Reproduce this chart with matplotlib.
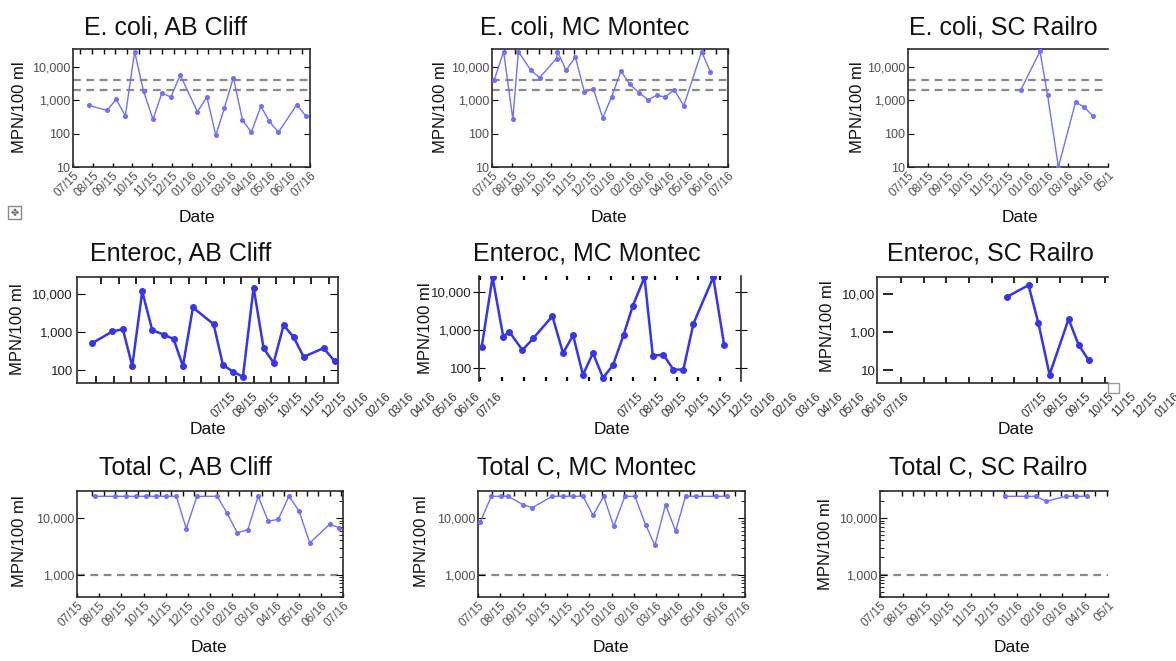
import matplotlib
matplotlib.use("Agg")
import matplotlib.pyplot as plt
import numpy as np
from matplotlib.patches import Rectangle
from matplotlib.ticker import NullLocator, NullFormatter, LogLocator

plt.rcParams['font.family'] = ['Liberation Sans', 'DejaVu Sans']

# ---- data: x = months since 07/15, y = MPN/100 ml ----
month_labels = ['07/15', '08/15', '09/15', '10/15', '11/15', '12/15', '01/16',
                '02/16', '03/16', '04/16', '05/16', '06/16', '07/16']
sc_labels = ['07/15', '08/15', '09/15', '10/15', '11/15', '12/15', '01/16',
             '02/16', '03/16', '04/16', '05/1']

ecoli_ab_x = [0.79, 1.72, 2.19, 2.65, 3.12, 3.57, 4.05, 4.50, 4.96, 5.43, 6.30,
              6.78, 7.23, 7.67, 8.12, 8.58, 9.03, 9.51, 9.94, 10.40, 11.33, 11.80]
ecoli_ab_y = [710, 500, 1070, 340, 29000, 1900, 270, 1650, 1260, 5750, 450,
              1260, 89, 600, 4800, 260, 110, 660, 235, 110, 740, 330]

ecoli_mc_x = [0.12, 0.59, 1.06, 1.34, 1.98, 2.42, 3.28, 3.33, 3.77, 4.24, 4.70, 5.15,
              5.63, 6.08, 6.56, 7.01, 7.49, 7.94, 8.37, 8.82, 9.26, 9.75, 10.66, 11.10]
ecoli_mc_y = [4200, 29000, 270, 29000, 7900, 4800, 18000, 29000, 7900, 20000, 1740, 2240,
              300, 1260, 7600, 3000, 1660, 1050, 1410, 1260, 2090, 690, 29000, 7100]

ecoli_sc_x = [5.63, 6.60, 6.98, 7.52, 8.38, 8.80, 9.27]
ecoli_sc_y = [2000, 29500, 1410, 10, 890, 630, 330]

entero_ab_x = [0.70, 1.62, 2.11, 2.54, 3.00, 3.46, 3.98, 4.44, 4.87, 5.33, 6.28,
               6.71, 7.17, 7.63, 8.12, 8.58, 9.04, 9.50, 9.96, 10.42, 11.34, 11.85]
entero_ab_y = [505, 1020, 1170, 127, 11300, 1100, 850, 650, 127, 4320, 1580,
               137, 91, 67, 14300, 370, 155, 1490, 725, 222, 375, 169]

entero_mc_x = [0.12, 0.62, 1.11, 1.39, 1.99, 2.48, 3.36, 3.85, 4.31, 4.76, 5.22, 5.68,
               6.13, 6.62, 7.05, 7.58, 7.96, 8.45, 8.90, 9.36, 9.82, 10.73, 11.23]
entero_mc_y = [354, 25000, 680, 910, 300, 610, 2360, 250, 740, 67, 250, 56,
               118, 750, 4500, 25000, 215, 226, 92, 92, 1490, 25000, 405]

entero_sc_x = [5.74, 6.69, 7.13, 7.62, 8.46, 8.90, 9.34]
entero_sc_y = [8200, 16500, 1650, 76, 2150, 460, 183]

totalc_ab_x = [0.80, 1.70, 2.20, 2.65, 3.10, 3.55, 4.03, 4.48, 4.93, 5.41, 6.32,
               6.77, 7.23, 7.71, 8.17, 8.63, 9.08, 9.56, 10.02, 10.50, 11.40, 11.82]
totalc_ab_y = [24196, 24196, 24196, 24196, 24196, 24196, 24196, 24196, 6500, 24196, 24196,
               12200, 5440, 6220, 24196, 8740, 9470, 24196, 13300, 3620, 7730, 6750]

totalc_mc_x = [0.10, 0.60, 1.05, 1.35, 2.02, 2.44, 3.34, 3.82, 4.27, 4.72, 5.17, 5.65,
               6.10, 6.60, 7.05, 7.53, 7.95, 8.43, 8.88, 9.33, 9.78, 10.69, 11.17]
totalc_mc_y = [8500, 24196, 24196, 24196, 17200, 15200, 24196, 24196, 24196, 24196, 11100, 24196,
               7130, 24196, 24196, 7630, 3290, 17200, 5890, 24196, 24196, 24196, 24196]

totalc_sc_x = [5.47, 6.39, 6.83, 7.30, 8.15, 8.58, 9.09]
totalc_sc_y = [24196, 24196, 24196, 19700, 24196, 24196, 24196]

ecoli_limits = [4000, 2000]
totalc_limits = [1000]

# ---- figure ----
W, H = 1176, 661
fig = plt.figure(figsize=(W / 100, H / 100), dpi=100)

LIGHT = '#7070ff'
DARK = '#3535ee'
DASH = '#8a8a8a'
GREY = '#505050'


def px_rect(x0, y0, x1, y1):
    return [x0 / W, 1 - y1 / H, (x1 - x0) / W, (y1 - y0) / H]


def fig_text(x, y, s, **kw):
    fig.text(x / W, 1 - y / H, s, **kw)


def base_axes(rect, xlim, ylim):
    ax = fig.add_axes(px_rect(*rect))
    ax.set_yscale('log')
    ax.set_xlim(*xlim)
    ax.set_ylim(*ylim)
    for s in ax.spines.values():
        s.set_linewidth(1.2)
        s.set_color('#2a2a2a')
    return ax


def month_axis(ax, labels, top_ticks):
    ax.set_xticks(range(len(labels)), labels, rotation=45, ha='right',
                  rotation_mode='anchor')
    ax.set_xticks(top_ticks, minor=True)
    ax.tick_params(axis='x', which='major', direction='in', length=3, width=1,
                   top=False, bottom=True, labelsize=8.5, labelcolor=GREY, pad=2)
    ax.tick_params(axis='x', which='minor', direction='in', length=3.5, width=1,
                   top=True, bottom=False)


# row 1: E. coli
ecoli_panels = [
    ((73, 49, 310, 167), ecoli_ab_x, ecoli_ab_y, (0, 12), month_labels, np.arange(0.37, 12, 0.59), True),
    ((492, 49, 728, 167), ecoli_mc_x, ecoli_mc_y, (0, 12), month_labels, np.arange(0.59, 12, 0.6), True),
    ((908, 49, 1108, 167), ecoli_sc_x, ecoli_sc_y, (0, 10), sc_labels, np.arange(1, 10), False),
]
for rect, x, y, xlim, labels, top_ticks, right in ecoli_panels:
    ax = base_axes(rect, xlim, (10, 34700))
    for lvl in ecoli_limits:
        ax.axhline(lvl, color=DASH, lw=1.6, ls=(0, (3.5, 2.5)), zorder=1)
    ax.plot(x, y, color=LIGHT, lw=1.0, marker='o', ms=2.6, zorder=3)
    ax.set_yticks([10, 100, 1000, 10000], ['10', '100', '1,000', '10,000'])
    ax.yaxis.set_minor_locator(NullLocator())
    ax.tick_params(axis='y', direction='in', length=4, left=True, right=right,
                   labelsize=9, labelcolor=GREY, pad=2)
    ax.spines['right'].set_visible(right)
    month_axis(ax, labels, top_ticks)

# row 2: Enteroc
ent_ylim = (46, 27000)
ax = base_axes((77, 277, 338, 383), (0, 12), ent_ylim)
ax.plot(entero_ab_x, entero_ab_y, color=DARK, lw=1.8, marker='o', ms=4, zorder=3)
ax.set_yticks([100, 1000, 10000], ['100', '1,000', '10,000'])
ax.yaxis.set_minor_locator(NullLocator())
ax.tick_params(axis='y', direction='in', length=6, left=True, right=True,
               labelsize=9.5, labelcolor='#222222', pad=3)
ax.set_xticks(np.arange(0.89, 12, 0.805), [])
ax.set_xticks(np.arange(1.12, 12, 0.805), minor=True)
ax.tick_params(axis='x', which='major', direction='in', length=5, width=1.2, top=False, bottom=True)
ax.tick_params(axis='x', which='minor', direction='in', length=5, width=1.2, top=True, bottom=False)

ax = base_axes((479, 276, 741, 381), (0, 12), ent_ylim)
ax.plot(entero_mc_x, entero_mc_y, color=DARK, lw=1.8, marker='o', ms=4, zorder=3)
ax.set_yticks([100, 1000, 10000], ['100', '1,000', '10,000'])
ax.yaxis.set_minor_locator(NullLocator())
ax.spines['top'].set_visible(False)
ax.spines['bottom'].set_visible(False)
ax.tick_params(axis='y', direction='inout', length=8, left=True, right=True,
               labelsize=9.5, labelcolor='#222222', pad=1)
ax.set_xticks(np.arange(0.05, 12, 1.0), [])
ax.tick_params(axis='x', direction='in', length=3, width=1.6, top=True, bottom=True)

ax = base_axes((877, 277, 1108, 383), (0, 10.2), ent_ylim)
ax.plot(entero_sc_x, entero_sc_y, color=DARK, lw=1.8, marker='o', ms=4, zorder=3)
ax.set_yticks([100, 1000, 10000], ['10', '1,00', '10,00'])
ax.yaxis.set_minor_locator(NullLocator())
ax.spines['right'].set_visible(False)
ax.spines['left'].set_position(('outward', -4.5))
ax.spines['left'].set_visible(False)
ax.axvline(0, color='#2a2a2a', lw=1.2, clip_on=False)
ax.tick_params(axis='y', direction='in', length=7, width=1.2, left=True, right=False,
               labelsize=9.5, labelcolor='#222222', pad=5.5)
ax.set_xticks(np.arange(1.06, 10.2, 1.0), [])
ax.tick_params(axis='x', direction='in', length=4, width=1.2, top=True, bottom=True)

# month labels of the middle row sit shifted to the right of their plots
for x0 in (230, 637, 1041):
    lab = fig.add_axes(px_rect(x0, 388, x0 + 12 * 22.2, 389))
    lab.set_xlim(0, 12)
    lab.set_xticks(range(13), month_labels, rotation=45, ha='right',
                   rotation_mode='anchor')
    lab.tick_params(axis='x', length=0, pad=1, labelsize=8.5, labelcolor='#333333')
    lab.set_yticks([])
    lab.patch.set_alpha(0)
    for s in lab.spines.values():
        s.set_visible(False)

# row 3: Total C
totalc_panels = [
    ((77, 491, 343, 597), totalc_ab_x, totalc_ab_y, (0, 12), month_labels, np.arange(0.69, 12, 0.51), 'right'),
    ((478, 491, 745, 597), totalc_mc_x, totalc_mc_y, (0, 12), month_labels, np.arange(0.64, 12, 0.495), 'right'),
    ((880, 491, 1108, 597), totalc_sc_x, totalc_sc_y, (0, 10), sc_labels, np.arange(0.95, 10, 0.5), 'left'),
]
for rect, x, y, xlim, labels, top_ticks, minor_side in totalc_panels:
    ax = base_axes(rect, xlim, (400, 30000))
    for lvl in totalc_limits:
        ax.axhline(lvl, color=DASH, lw=1.6, ls=(0, (3.5, 2.5)), zorder=1)
    ax.plot(x, y, color=LIGHT, lw=1.0, marker='o', ms=2.6, zorder=3)
    ax.set_yticks([1000, 10000], ['1,000', '10,000'])
    ax.yaxis.set_minor_locator(LogLocator(subs=np.arange(2, 10)))
    ax.yaxis.set_minor_formatter(NullFormatter())
    right = minor_side == 'right'
    ax.spines['right'].set_visible(right)
    ax.tick_params(axis='y', which='major', direction='in', length=5, left=True,
                   right=right, labelsize=9, labelcolor=GREY, pad=2)
    ax.tick_params(axis='y', which='minor', direction='in', length=3,
                   left=not right, right=right)
    month_axis(ax, labels, top_ticks)

# ---- text ----
titles = [
    ('E. coli, AB Cliff', 166, 35), ('E. coli, MC Montec', 585, 35), ('E. coli, SC Railro', 1003, 35),
    ('Enteroc, AB Cliff', 181, 260), ('Enteroc, MC Montec', 587, 260), ('Enteroc, SC Railro', 990, 260),
    ('Total C, AB Cliff', 185, 475), ('Total C, MC Montec', 587, 475), ('Total C, SC Railro', 988, 475),
]
for s, x, y in titles:
    fig_text(x, y, s, fontsize=18, ha='center', va='baseline', color='#111111')

for x, y in [(20, 107), (440, 107), (858, 107), (18, 329), (425, 328), (828, 326),
             (20, 541), (422, 541), (825, 544)]:
    fig_text(x, y, 'MPN/100 ml', fontsize=12, rotation=90, ha='center', va='center',
             color='#111111')

for x, y in [(197, 217), (609, 217), (1020, 217), (208, 430), (612, 430), (1016, 430),
             (209, 648), (611, 648), (1012, 648)]:
    fig_text(x, y, 'Date', fontsize=12.5, ha='center', va='center', color='#111111')

# small UI icons left in the screenshot
fig.add_artist(Rectangle((8 / W, 1 - 219 / H), 13 / W, 13 / H, transform=fig.transFigure,
                         facecolor='white', edgecolor='#888888', lw=1, zorder=10))
fig_text(14.5, 212.5, '\u2725', fontsize=7, ha='center', va='center', color='#555555', zorder=11)
fig.add_artist(Rectangle((1108 / W, 1 - 393 / H), 11 / W, 10 / H, transform=fig.transFigure,
                         facecolor='white', edgecolor='#999999', lw=1, zorder=10))

fig.savefig('out.png', dpi=100)
